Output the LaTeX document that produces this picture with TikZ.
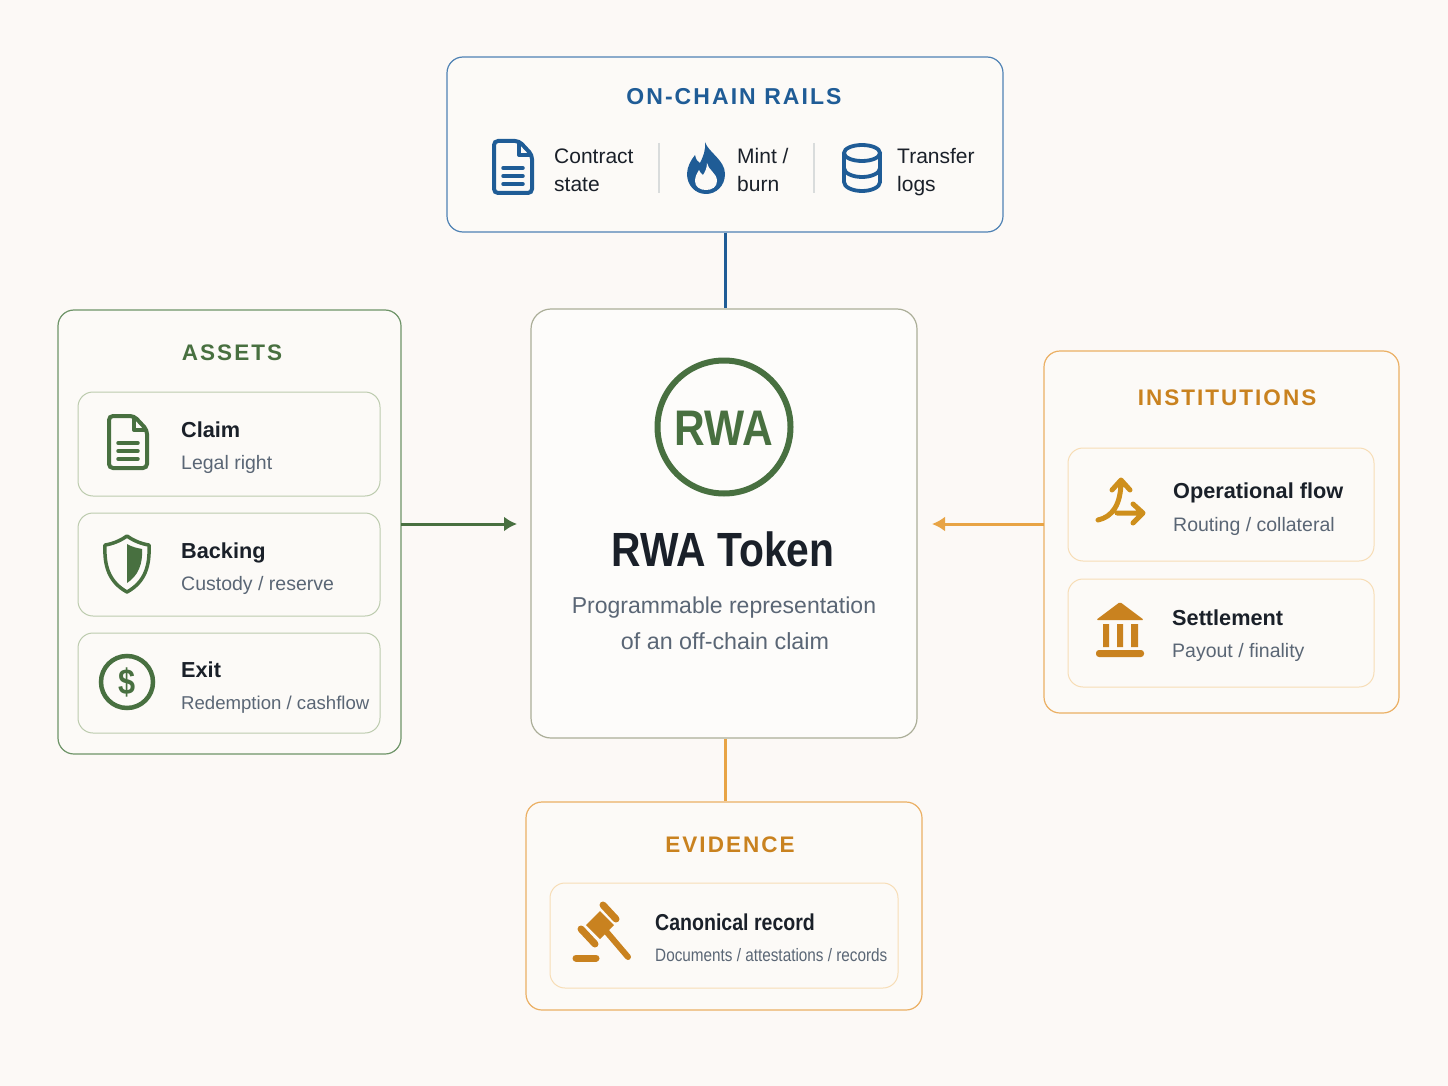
\documentclass[tikz,border=0pt]{standalone}
\usepackage{fontspec}
\setmainfont{Liberation Sans}
\newfontfamily\headfont[LetterSpace=9]{Liberation Sans}
\newfontfamily\narrowfont[FakeStretch=0.85]{Liberation Sans}
\usetikzlibrary{arrows.meta}
\definecolor{pagebg}{HTML}{FCF9F6}
\definecolor{panelbg}{HTML}{FCFAF7}
\definecolor{tokenbg}{HTML}{FDFCFA}
\definecolor{rwagreen}{HTML}{487040}
\definecolor{greenline}{HTML}{6E9468}
\definecolor{greenitem}{HTML}{BCCBAE}
\definecolor{rwablue}{HTML}{1F5C96}
\definecolor{blueline}{HTML}{4F82B4}
\definecolor{rwaorange}{HTML}{C9821F}
\definecolor{orangeline}{HTML}{EBB064}
\definecolor{orangeitem}{HTML}{F7DDB6}
\definecolor{arroworange}{HTML}{E8A445}
\definecolor{tokenline}{HTML}{ABAE98}
\definecolor{ink}{HTML}{1A2029}
\definecolor{subink}{HTML}{5A6675}
\definecolor{sepline}{HTML}{D9DCDC}
\tikzset{
  panel/.style={draw,fill=panelbg,rounded corners=16pt,line width=1.2pt,inner sep=0pt},
  itembox/.style={draw,rounded corners=15pt,line width=1pt,inner sep=0pt},
  heading/.style={font=\headfont\bfseries\fontsize{22.5}{27}\selectfont,anchor=base,inner sep=0pt},
  plainlabel/.style={font=\fontsize{21}{25}\selectfont,text=ink,anchor=base west,inner sep=0pt},
  itemtitle/.style={font=\bfseries\fontsize{21.7}{26}\selectfont,text=ink,anchor=base west,inner sep=0pt},
  itemsub/.style={font=\fontsize{19.5}{24}\selectfont,text=subink,anchor=base west,inner sep=0pt},
  docicon/.pic={
    \draw[pic actions,rounded corners=4pt] (2,2) -- (27,2) -- (40,16) -- (40,54) -- (2,54) -- cycle;
    \draw[pic actions,line join=round] (27,2) -- (27,16) -- (40,16);
    \draw[pic actions,line cap=round,line width=3.5pt] (11,29) -- (31,29) (11,37) -- (31,37) (11,45) -- (31,45);
  }
}

\begin{document}
\begin{tikzpicture}[x=1pt,y=-1pt]
  \useasboundingbox[fill=pagebg] (0,0) rectangle (1448,1086);

  % outer boxes
  \node[panel,draw=blueline,minimum width=556pt,minimum height=175pt] (rails) at (725,144.5) {};
  \node[panel,draw=tokenline,fill=tokenbg,rounded corners=20pt,minimum width=386pt,minimum height=429pt] (token) at (724,523.5) {};
  \node[panel,draw=greenline,minimum width=343pt,minimum height=444pt] (assets) at (229.5,532) {};
  \node[panel,draw=orangeline,minimum width=355pt,minimum height=362pt] (institutions) at (1221.5,532) {};
  \node[panel,draw=orangeline,minimum width=396pt,minimum height=208pt] (evidence) at (724,906) {};

  % connectors
  \coordinate (assetsend) at (517,524);
  \coordinate (institutionsend) at (932,524);
  \coordinate (assetsstart) at (401,524);
  \coordinate (institutionsstart) at (1044,524);
  \draw[rwablue,line width=3pt] (rails.south) -- (rails.south |- token.north);
  \draw[arroworange,line width=3pt] (token.south -| rails.south) -- (evidence.north -| rails.south);
  \draw[rwagreen,line width=3pt,-{Latex[length=13pt,width=15pt]}] (assetsstart) -- (assetsend);
  \draw[arroworange,line width=3pt,-{Latex[length=13pt,width=15pt]}] (institutionsstart) -- (institutionsend);

  % on-chain rails
  \node[heading,font=\headfont\bfseries\fontsize{23}{27}\selectfont,text=rwablue] (railstitle) at (734,105) {ON-CHAIN RAILS};
  \pic[draw=rwablue,line width=4pt] at (492,139) {docicon};
  \node[plainlabel] (contract) at (554,164) {Contract};
  \node[plainlabel] (state) at (554,192) {state};
  \draw[sepline,line width=1.2pt] (659,143) -- (659,193);
  \fill[rwablue] (705,142) .. controls (708,152) and (725,160) .. (725,174) .. controls (725,186) and (716,194) .. (706,194) .. controls (695,194) and (687,185) .. (687,174) .. controls (687,167) and (691,160) .. (695,155) .. controls (696,160) and (698,162) .. (700,163) .. controls (703,157) and (706,150) .. (705,142) -- cycle;
  \fill[panelbg] (707,163) .. controls (708,170) and (717,173) .. (717,181) .. controls (717,187) and (712,190) .. (706,190) .. controls (700,190) and (695,187) .. (695,181) .. controls (695,177) and (697,173) .. (699,170) .. controls (700,172) and (701,174) .. (703,175) .. controls (705,172) and (707,168) .. (707,163) -- cycle;
  \node[plainlabel] (mint) at (737,164) {Mint /};
  \node[plainlabel] (burn) at (737,192) {burn};
  \draw[sepline,line width=1.2pt] (814,143) -- (814,193);
  \draw[rwablue,line width=3.8pt] (862,153) ellipse (18pt and 8pt);
  \draw[rwablue,line width=3.8pt] (844,153) -- (844,182) arc[start angle=180,end angle=0,x radius=18,y radius=9] -- (880,153);
  \draw[rwablue,line width=3.8pt] (844,168) arc[start angle=180,end angle=0,x radius=18,y radius=9];
  \node[plainlabel] (transfer) at (897,164) {Transfer};
  \node[plainlabel] (logs) at (897,192) {logs};

  % token
  \node[draw=rwagreen,line width=6pt,circle,minimum size=133pt,inner sep=0pt] (badge) at (724,427) {};
  \node[font=\narrowfont\bfseries\fontsize{50}{52}\selectfont,text=rwagreen,anchor=base,inner sep=0pt] (badgetext) at (724,445) {RWA};
  \node[font=\narrowfont\bfseries\fontsize{48}{50}\selectfont,text=ink,anchor=base,inner sep=0pt] (tokentitle) at (723,566) {RWA Token};
  \node[font=\fontsize{23}{28}\selectfont,text=subink,anchor=base,inner sep=0pt] (tokensubone) at (724,613) {Programmable representation};
  \node[font=\fontsize{23.3}{28}\selectfont,text=subink,anchor=base,inner sep=0pt] (tokensubtwo) at (725,649) {of an off-chain claim};

  % assets
  \node[heading,text=rwagreen] (assetstitle) at (232,360) {ASSETS};
  \node[itembox,draw=greenitem,minimum width=302pt,minimum height=104pt] (claimbox) at (229,444) {};
  \node[itembox,draw=greenitem,minimum width=302pt,minimum height=103pt] (backingbox) at (229,564.5) {};
  \node[itembox,draw=greenitem,minimum width=302pt,minimum height=100pt] (exitbox) at (229,683) {};
  \pic[draw=rwagreen,line width=4pt] at (107,414) {docicon};
  \node[itemtitle] (claim) at (181,437) {Claim};
  \node[itemsub] (claimsub) at (181,469) {Legal right};
  \draw[rwagreen,line width=3.5pt,line join=round] (127,536) .. controls (134,541) and (142,544) .. (149,545) .. controls (150,566) and (145,582) .. (127,592) .. controls (109,582) and (104,566) .. (105,545) .. controls (112,544) and (120,541) .. (127,536) -- cycle;
  \fill[rwagreen] (127,544) .. controls (132,547) and (137,548) .. (142,549) .. controls (143,564) and (138,576) .. (127,583) -- cycle;
  \node[itemtitle] (backing) at (181,558) {Backing};
  \node[itemsub] (backingsub) at (181,590) {Custody / reserve};
  \node[draw=rwagreen,line width=4.5pt,circle,minimum size=52pt,inner sep=0pt] (dollarring) at (127,682) {};
  \node[font=\narrowfont\bfseries\fontsize{36}{38}\selectfont,text=rwagreen,inner sep=0pt] (dollar) at (127,682) {\$};
  \node[itemtitle] (exit) at (181,677) {Exit};
  \node[itemsub,font=\fontsize{18.6}{24}\selectfont] (exitsub) at (181,709) {Redemption / cashflow};

  % institutions
  \node[heading,text=rwaorange] (institutionstitle) at (1227,405) {INSTITUTIONS};
  \node[itembox,draw=orangeitem,minimum width=306pt,minimum height=113pt] (flowbox) at (1221,504.5) {};
  \node[itembox,draw=orangeitem,minimum width=306pt,minimum height=108pt] (settlebox) at (1221,633) {};
  \draw[rwaorange!90!yellow,line width=5pt,line cap=round,line join=round] (1098,520) .. controls (1112,517) and (1121,505) .. (1121,481) (1112,490) -- (1121,480) -- (1130,490) (1117,513) -- (1142,513) (1133,504) -- (1143,513) -- (1133,523);
  \node[itemtitle] (flow) at (1173,498) {Operational flow};
  \node[itemsub] (flowsub) at (1173,531) {Routing / collateral};
  \fill[rwaorange,rounded corners=1.5pt] (1120,602) -- (1144,620) -- (1096,620) -- cycle;
  \fill[rwaorange] (1103,624) rectangle (1109,647) (1117,624) rectangle (1123,647) (1131,624) rectangle (1138,647);
  \fill[rwaorange,rounded corners=3pt] (1096,650) rectangle (1144,657);
  \node[itemtitle] (settlement) at (1172,625) {Settlement};
  \node[itemsub] (settlementsub) at (1172,657) {Payout / finality};

  % evidence
  \node[heading,text=rwaorange] (evidencetitle) at (730,852.5) {EVIDENCE};
  \node[itembox,draw=orangeitem,minimum width=348pt,minimum height=105pt] (recordbox) at (724,935.5) {};
  \fill[rwaorange] (600,911) -- (614,925) -- (600,939) -- (586,925) -- cycle;
  \draw[rwaorange,line width=7pt,line cap=round] (603,905) -- (616,919) (581,929) -- (595,944);
  \draw[rwaorange,line width=6pt,line cap=round] (605,930) -- (628,957);
  \draw[rwaorange,line width=7pt,line cap=round] (576,958) -- (596,958);
  \node[itemtitle,font=\narrowfont\bfseries\fontsize{23}{26}\selectfont] (record) at (655,930) {Canonical record};
  \node[itemsub,font=\narrowfont\fontsize{18}{22}\selectfont] (recordsub) at (655,961) {Documents / attestations / records};
\end{tikzpicture}
\end{document}
